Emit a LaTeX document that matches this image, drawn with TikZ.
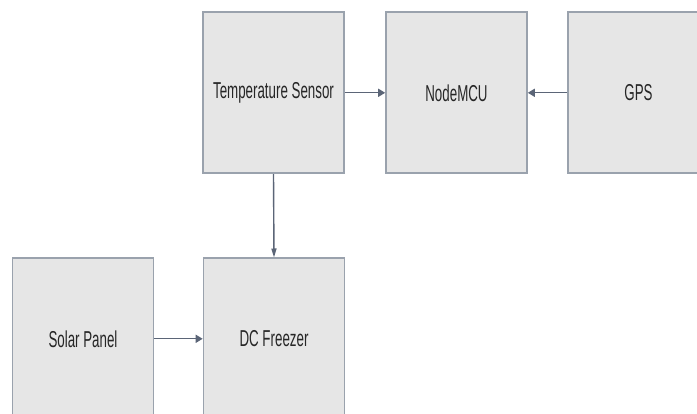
\documentclass[tikz,border=0pt]{standalone}
\usepackage{fontspec}
\setmainfont{Liberation Sans}
\usetikzlibrary{arrows.meta}
\definecolor{boxfill}{HTML}{E6E6E6}
\definecolor{boxline}{HTML}{9AA2AD}
\definecolor{arrcol}{HTML}{5B6577}
\newcommand\sqz[1]{\scalebox{0.58}[1]{#1}}
\begin{document}
\begin{tikzpicture}[x=1pt,y=-1pt,
  blockbox/.style={draw=boxline, fill=boxfill, line width=1.6pt, minimum width=141pt, minimum height=161pt, inner sep=0pt, font=\fontsize{23}{27}\selectfont, text=black!85},
  conn/.style={draw=arrcol, line width=1.4pt},
  htip/.style={-{Triangle[length=7pt,width=8pt]}},
  vtip/.style={-{Triangle[length=9pt,width=5pt]}}]
\useasboundingbox (0,0) rectangle (697,414);
\clip (0,0) rectangle (697,414);
\fill[white] (0,0) rectangle (697,414);
\node[blockbox] (ts) at (273.5,92.8) {\sqz{Temperature Sensor}};
\node[blockbox] (mcu) at (456.5,92.8) {\sqz{NodeMCU}};
\node[blockbox] (gps) at (638.5,92.8) {\sqz{GPS}};
\node[blockbox] (sol) at (83,338.8) {\sqz{Solar Panel}};
\node[blockbox] (dc) at (274,338.8) {\sqz{DC Freezer}};
\draw[conn,htip] (ts.east) -- (mcu.west);
\draw[conn,htip] (gps.west) -- (mcu.east);
\draw[conn,vtip] (ts.south) -- (dc.north);
\draw[conn,htip] (sol.east) -- (dc.west);
\end{tikzpicture}
\end{document}
